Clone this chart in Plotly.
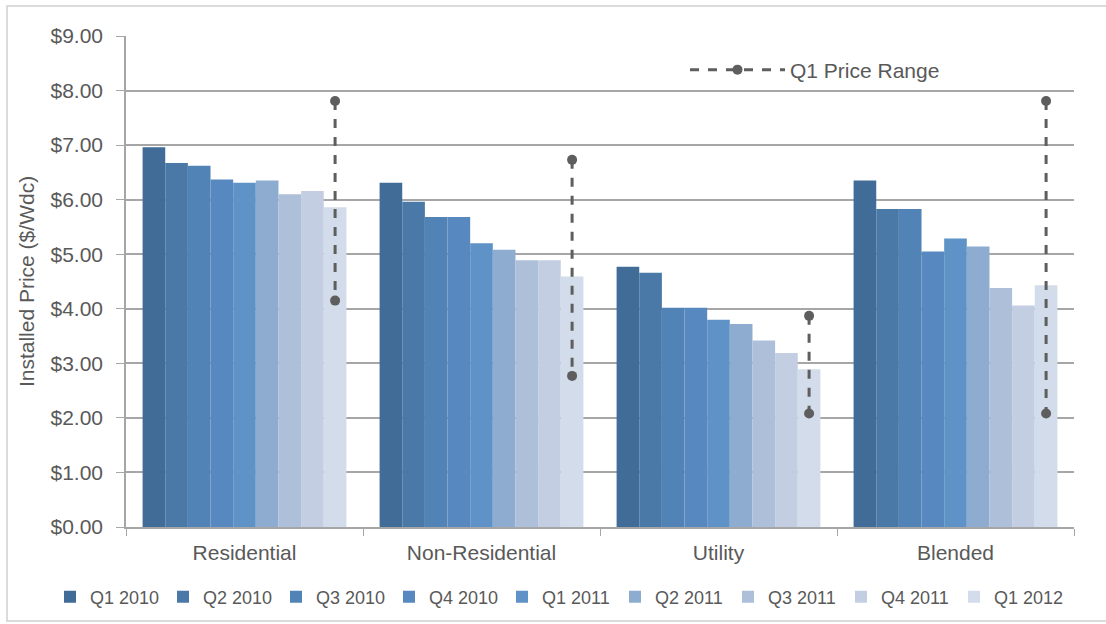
import plotly.graph_objects as go

categories = ["Residential", "Non-Residential", "Utility", "Blended"]
quarters = ["Q1 2010", "Q2 2010", "Q3 2010", "Q4 2010", "Q1 2011",
            "Q2 2011", "Q3 2011", "Q4 2011", "Q1 2012"]

q1_2010 = [6.96, 6.31, 4.77, 6.35]
q2_2010 = [6.67, 5.96, 4.66, 5.83]
q3_2010 = [6.62, 5.68, 4.02, 5.83]
q4_2010 = [6.37, 5.68, 4.02, 5.05]
q1_2011 = [6.31, 5.20, 3.80, 5.29]
q2_2011 = [6.35, 5.08, 3.72, 5.14]
q3_2011 = [6.10, 4.89, 3.42, 4.38]
q4_2011 = [6.16, 4.89, 3.19, 4.06]
q1_2012 = [5.86, 4.59, 2.89, 4.43]

range_low = [4.15, 2.77, 2.08, 2.08]
range_high = [7.81, 6.73, 3.87, 7.81]

series = [q1_2010, q2_2010, q3_2010, q4_2010, q1_2011,
          q2_2011, q3_2011, q4_2011, q1_2012]
colors = ["#426C98", "#4A79A8", "#5283B6", "#5789C0", "#5F93C8",
          "#8EABD0", "#AEBFDA", "#C4CEE2", "#D3DCEA"]

FONT = "Liberation Sans"
TXT = "#595959"

fig = go.Figure()
for name, vals, col in zip(quarters, series, colors):
    fig.add_trace(go.Bar(x=categories, y=vals, name=name, marker_color=col,
                         marker_line_width=0, offsetgroup=name, legend="legend"))

# range lines aligned with the Q1 2012 bar
rx, ry = [], []
for c, lo, hi in zip(categories, range_low, range_high):
    rx += [c, c, None]
    ry += [hi, lo, None]
fig.add_trace(go.Scatter(x=rx, y=ry, mode="lines+markers", name="Q1 Price Range",
                         offsetgroup="Q1 2012", legend="legend2",
                         line=dict(color="#5E5E5E", width=3, dash="dash"),
                         marker=dict(color="#5E5E5E", size=10),
                         connectgaps=False))

L, R, T, B = 126, 32, 36, 97
W, H = 1106, 624
pw, ph = W - L - R, H - T - B

def px(x):
    return (x - L) / pw

def py(y):
    return (H - B - y) / ph

fig.update_layout(
    width=W, height=H,
    margin=dict(l=L, r=R, t=T, b=B, autoexpand=False),
    paper_bgcolor="white", plot_bgcolor="white",
    barmode="group", bargap=0.14, bargroupgap=0,
    scattermode="group",
    font=dict(family=FONT, color=TXT),
    showlegend=True,
    legend=dict(orientation="h", x=px(50), xanchor="left", y=py(597), yanchor="middle",
                font=dict(size=18, color=TXT), entrywidth=68, entrywidthmode="pixels",
                itemwidth=30, traceorder="normal", bgcolor="rgba(0,0,0,0)"),
    legend2=dict(x=px(685), xanchor="left", y=py(70), yanchor="middle",
                 font=dict(size=21, color=TXT), itemwidth=95,
                 bgcolor="rgba(0,0,0,0)"),
    xaxis=dict(type="category", showgrid=False, showline=True, linecolor="#A6A6A6",
               linewidth=1.5, ticks="outside", tickson="boundaries", ticklen=7,
               tickcolor="#A6A6A6", tickfont=dict(size=21, color=TXT),
               ticklabelstandoff=6),
    yaxis=dict(range=[0, 9], dtick=1, tickprefix="$", tickformat=".2f",
               showgrid=True, gridcolor="#A6A6A6", gridwidth=1.5,
               showline=True, linecolor="#A6A6A6", linewidth=1.5,
               ticks="outside", ticklen=8, tickcolor="#A6A6A6",
               tickfont=dict(size=21, color=TXT), zeroline=False,
               ticklabelstandoff=9,
               title=dict(text="Installed Price ($/Wdc)", font=dict(size=21, color=TXT),
                          standoff=10)),
    shapes=[dict(type="rect", xref="paper", yref="paper",
                 x0=px(7), x1=px(1112), y0=py(621), y1=py(6),
                 line=dict(color="#D0D0D0", width=1.5), fillcolor="rgba(0,0,0,0)",
                 layer="below")],
)

fig.write_html("out.html")
